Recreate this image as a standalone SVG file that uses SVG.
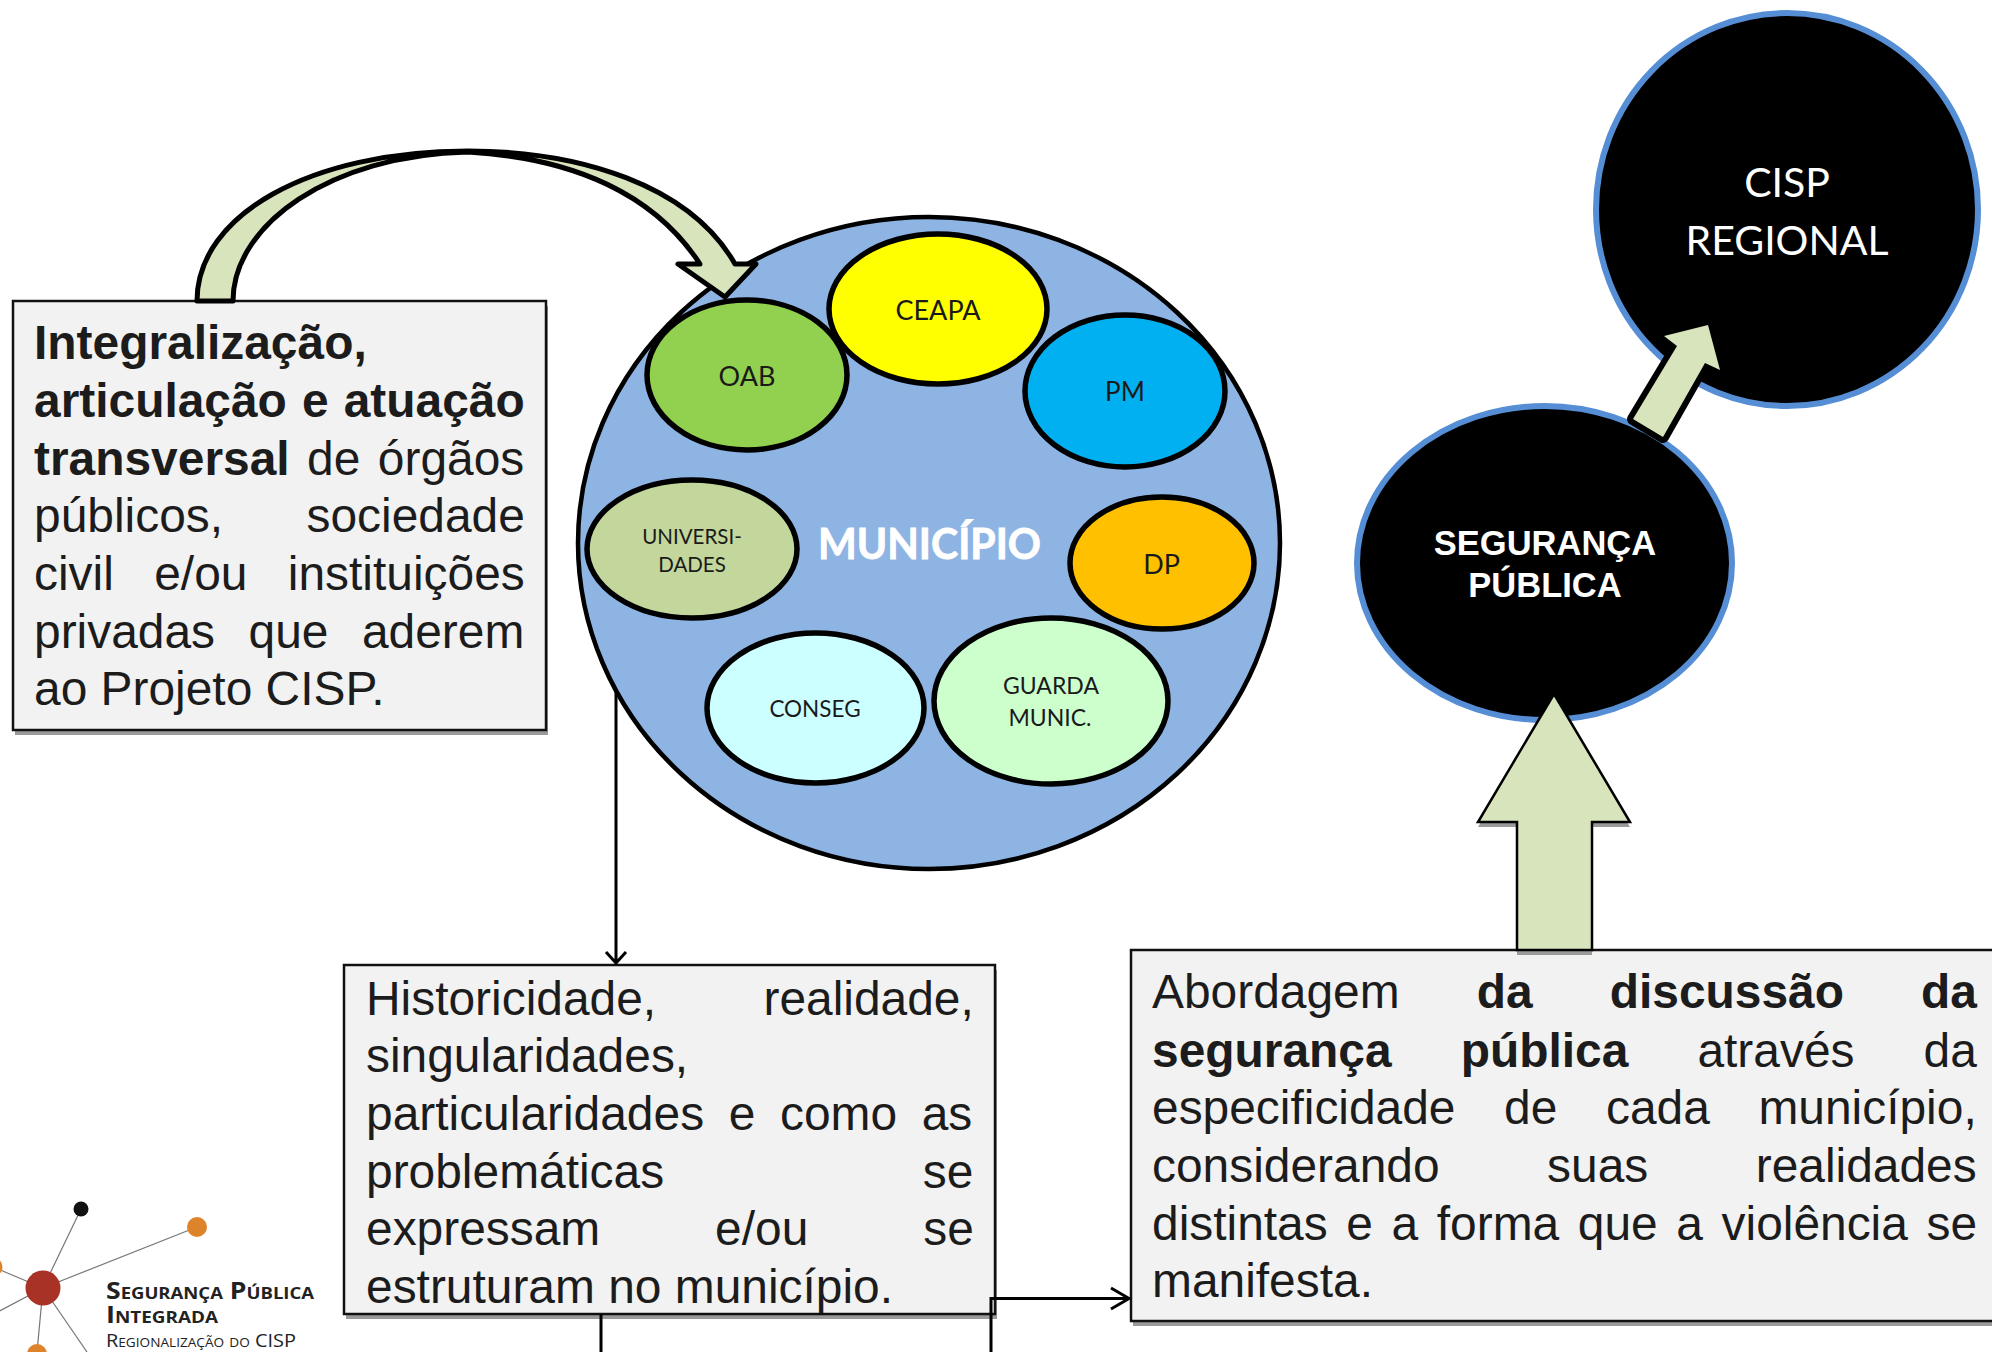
<svg xmlns="http://www.w3.org/2000/svg" width="1992" height="1352" viewBox="0 0 1992 1352">
<style>
.box{fill:#f2f2f2;stroke:#111;stroke-width:2.5}
.shadow{fill:#9a9a9a}
.body{font-family:"Liberation Sans",Arial,sans-serif;font-size:47.9px;fill:#1c1c1c}
.body .b{font-weight:700}
.ell{stroke:#000;stroke-width:5.5}
.lbl{font-family:"Lato","Noto Sans",sans-serif;fill:#1a1a1a;text-anchor:middle}
.arrowfill{fill:#d8e4bc}
.conn{fill:none;stroke:#000;stroke-width:3}
.black{fill:#000;stroke:#558ed5;stroke-width:6}
.logo{font-family:"Open Sans",sans-serif;fill:#222;font-variant:small-caps}
.spoke{stroke:#777;stroke-width:1.2}
</style>
<rect width="1992" height="1352" fill="#fff"/>

<g id="municipio">
<ellipse cx="929" cy="543" rx="351" ry="326" fill="#8eb4e3" stroke="#000" stroke-width="4.5"/>
<text x="818" y="559" font-family="Lato,'Noto Sans',sans-serif" font-weight="700" font-size="42" fill="#fff" stroke="#fff" stroke-width="0.8" textLength="223" lengthAdjust="spacingAndGlyphs">MUNICÍPIO</text>
</g>
<g id="ceapa"><ellipse class="ell" cx="938" cy="309" rx="109" ry="75" fill="#ffff00"/><text class="lbl" x="938" y="320" font-size="27">CEAPA</text></g>
<g id="oab"><ellipse class="ell" cx="747" cy="375" rx="100" ry="75" fill="#92d050"/><text class="lbl" x="747" y="386" font-size="27">OAB</text></g>
<g id="pm"><ellipse class="ell" cx="1125" cy="391" rx="100" ry="76" fill="#00b0f0"/><text class="lbl" x="1125" y="401" font-size="26">PM</text></g>
<g id="universidades"><ellipse class="ell" cx="692" cy="549" rx="105" ry="69" fill="#c3d69b"/><text class="lbl" x="692" y="544" font-size="20.5">UNIVERSI-</text><text class="lbl" x="692" y="572" font-size="20.5">DADES</text></g>
<g id="dp"><ellipse class="ell" cx="1162" cy="563" rx="92" ry="66" fill="#ffc000"/><text class="lbl" x="1161.500" y="574" font-size="27">DP</text></g>
<g id="conseg"><ellipse class="ell" cx="815.500" cy="708" rx="108.500" ry="75" fill="#ccffff"/><text class="lbl" x="815" y="717" font-size="22.5">CONSEG</text></g>
<g id="guarda"><ellipse class="ell" cx="1051" cy="701" rx="117" ry="83" fill="#ccffcc"/><text class="lbl" x="1051" y="694" font-size="23">GUARDA</text><text class="lbl" x="1050" y="726" font-size="23">MUNIC.</text></g>

<g id="cisp-regional"><ellipse class="black" cx="1787" cy="209.500" rx="191" ry="196.500"/>
<text x="1787" y="197" text-anchor="middle" font-family="Lato,sans-serif" font-size="41" fill="#fff">CISP</text>
<text x="1787" y="255" text-anchor="middle" font-family="Lato,sans-serif" font-size="41" fill="#fff">REGIONAL</text></g>
<g id="seguranca-publica"><ellipse class="black" cx="1544.500" cy="563" rx="187.500" ry="157"/>
<text x="1545" y="555" text-anchor="middle" font-family="'Liberation Sans',sans-serif" font-weight="700" font-size="34.500" fill="#fff">SEGURANÇA</text>
<text x="1545" y="597" text-anchor="middle" font-family="'Liberation Sans',sans-serif" font-weight="700" font-size="34.500" fill="#fff">PÚBLICA</text></g>

<g id="box-integralizacao">
<rect class="shadow" x="15" y="306" width="533" height="429"/>
<rect class="box" x="13" y="301" width="533" height="429"/>
<text class="body">
<tspan class="b" x="34" y="359">Integralização,</tspan>
<tspan class="b" x="34" y="416.500" word-spacing="1.8">articulação e atuação</tspan>
<tspan x="34" y="474.500" word-spacing="4.2"><tspan class="b">transversal</tspan> de órgãos</tspan>
<tspan x="34" y="532" word-spacing="70.2">públicos, sociedade</tspan>
<tspan x="34" y="590" word-spacing="27.1">civil e/ou instituições</tspan>
<tspan x="34" y="647.500" word-spacing="20.2">privadas que aderem</tspan>
<tspan x="34" y="704.500">ao Projeto CISP.</tspan>
</text>
</g>

<g id="box-historicidade">
<rect class="shadow" x="346" y="970" width="651" height="349"/>
<rect class="box" x="344" y="965" width="651" height="349"/>
<text class="body">
<tspan x="366" y="1014.500" word-spacing="94">Historicidade, realidade,</tspan>
<tspan x="366" y="1071.500">singularidades,</tspan>
<tspan x="366" y="1129.500" word-spacing="11.3">particularidades e como as</tspan>
<tspan x="366" y="1187.500" word-spacing="245.3">problemáticas se</tspan>
<tspan x="366" y="1245" word-spacing="101.6">expressam e/ou se</tspan>
<tspan x="366" y="1302.500">estruturam no município.</tspan>
</text>
</g>

<g id="box-abordagem">
<rect class="shadow" x="1133" y="955" width="870" height="371"/>
<rect class="box" x="1131" y="950" width="870" height="371"/>
<text class="body">
<tspan x="1152" y="1007.500" word-spacing="63.8">Abordagem <tspan class="b">da discussão da</tspan></tspan>
<tspan x="1152" y="1066.500" word-spacing="55.8"><tspan class="b">segurança pública</tspan> através da</tspan>
<tspan x="1152" y="1123.500" word-spacing="35.3">especificidade de cada município,</tspan>
<tspan x="1152" y="1181.500" word-spacing="94.2">considerando suas realidades</tspan>
<tspan x="1152" y="1239.500" word-spacing="5.3">distintas e a forma que a violência se</tspan>
<tspan x="1152" y="1296.500">manifesta.</tspan>
</text>
</g>

<g id="connectors">
<path class="conn" d="M616 692V963M606 952L616 963L626 952"/>
<path class="conn" d="M601 1314V1352"/>
<path class="conn" d="M991 1352V1298.500H1129M1111 1288L1129 1298.500L1111 1309"/>
<path id="arrow-curved" class="arrowfill" stroke="#000" stroke-width="5" stroke-linejoin="round" d="M197 301C197 215 310 151 468 151C580 151 690 185 735 264L756 264L725 297L678 264L700 264C655 195 575 158 468 152C330 155 233 225 233 301Z"/>
<path id="arrow-diagonal" class="arrowfill" stroke="#000" stroke-width="12" stroke-linejoin="round" paint-order="stroke" d="M1708 325L1664 336L1677 346L1633 419L1663 437L1705 363L1720 370Z"/>
<path class="shadow" d="M1554 699L1478 827H1517V955H1592V827H1630Z"/>
<path id="arrow-up" class="arrowfill" stroke="#000" stroke-width="2.5" stroke-linejoin="miter" d="M1554 694L1478 822H1517V950H1592V822H1630Z"/>
</g>

<g id="logo">
<line class="spoke" x1="43" y1="1288" x2="81" y2="1209"/>
<line class="spoke" x1="43" y1="1288" x2="197" y2="1227"/>
<line class="spoke" x1="43" y1="1288" x2="-7" y2="1267"/>
<line class="spoke" x1="43" y1="1288" x2="-10" y2="1316"/>
<line class="spoke" x1="43" y1="1288" x2="37" y2="1352"/>
<line class="spoke" x1="43" y1="1288" x2="87" y2="1352"/>
<circle cx="43" cy="1288" r="17.500" fill="#a93226"/>
<circle cx="81" cy="1209" r="7.500" fill="#111"/>
<circle cx="197" cy="1227" r="10" fill="#dd842a"/>
<circle cx="-7" cy="1267" r="9.500" fill="#dd842a"/>
<circle cx="37" cy="1354" r="10" fill="#dd842a"/>
<text class="logo" x="106" y="1299" font-size="23" font-weight="700" textLength="208" lengthAdjust="spacingAndGlyphs">Segurança Pública</text>
<text class="logo" x="106" y="1323" font-size="23" font-weight="700" textLength="112" lengthAdjust="spacingAndGlyphs">Integrada</text>
<text class="logo" x="106" y="1347" font-size="19" textLength="190" lengthAdjust="spacingAndGlyphs">Regionalização do CISP</text>
</g>
</svg>
